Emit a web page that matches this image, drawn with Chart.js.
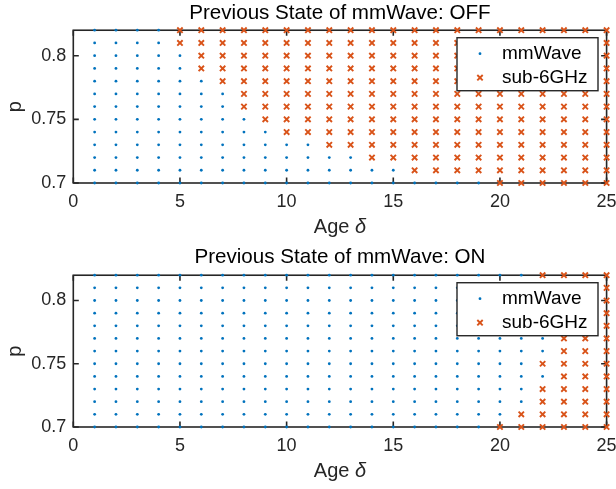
<!DOCTYPE html>
<html>
<head>
<meta charset="utf-8">
<script src="https://cdn.jsdelivr.net/npm/chart.js@4.4.1/dist/chart.umd.min.js"></script>
<style>
  html, body { margin: 0; padding: 0; background: #fff; }
  #wrap { position: relative; width: 616px; height: 489px; background: #fff; }
  canvas { position: absolute; left: 0; }
</style>
</head>
<body>
<div id="wrap">
  <canvas id="c1" width="616" height="244" style="top:0px"></canvas>
  <canvas id="c2" width="616" height="245" style="top:244px"></canvas>
</div>
<script>
// ---------- data ----------
const ages = [1,2,3,4,5,6,7,8,9,10,11,12,13,14,15,16,17,18,19,20,21,22,23,24,25];
const pValues = [0.70,0.71,0.72,0.73,0.74,0.75,0.76,0.77,0.78,0.79,0.80,0.81,0.82];
// first age (for each p row, 0.70 -> 0.82) at which the decision is sub-6GHz
const firstSub6AgeOff = [20,16,14,12,10,9,8,8,7,6,6,5,5];
const firstSub6AgeOn  = [20,21,22,22,23,22,23,23,23,23,23,22,22];
const xTickValues = [0,5,10,15,20,25];
const yTickValues = [0.7,0.75,0.8];
const yTickLabels = ['0.7','0.75','0.8'];
const titles = ['Previous State of mmWave: OFF','Previous State of mmWave: ON'];
const seriesNames = ['mmWave','sub-6GHz'];

const BLUE = '#0072BD', ORANGE = '#D95319', AX = '#262626';
const FONT = "'Liberation Sans', Arial, Helvetica, sans-serif";

function buildPoints(firstSub6) {
  const mm = [], sub = [];
  pValues.forEach((p, i) => {
    ages.forEach(a => {
      if (a >= firstSub6[i]) sub.push({x: a, y: p}); else mm.push({x: a, y: p});
    });
  });
  return {mm, sub};
}

function drawCross(ctx, x, y, r, lw) {
  ctx.save();
  ctx.strokeStyle = ORANGE; ctx.lineWidth = lw;
  ctx.beginPath();
  ctx.moveTo(x - r, y - r); ctx.lineTo(x + r, y + r);
  ctx.moveTo(x - r, y + r); ctx.lineTo(x + r, y - r);
  ctx.stroke();
  ctx.restore();
}

const framePlugin = {
  id: 'frame',
  beforeDatasetsDraw(chart) {
    const {ctx, chartArea: a, scales} = chart;
    ctx.save();
    ctx.strokeStyle = AX; ctx.lineWidth = 1.6;
    ctx.strokeRect(a.left, a.top, a.right - a.left, a.bottom - a.top);
    const tl = 5.5;
    ctx.beginPath();
    xTickValues.forEach(v => {
      const px = scales.x.getPixelForValue(v);
      ctx.moveTo(px, a.bottom); ctx.lineTo(px, a.bottom - tl);
      ctx.moveTo(px, a.top); ctx.lineTo(px, a.top + tl);
    });
    yTickValues.forEach(v => {
      const py = scales.y.getPixelForValue(v);
      ctx.moveTo(a.left, py); ctx.lineTo(a.left + tl, py);
      ctx.moveTo(a.right, py); ctx.lineTo(a.right - tl, py);
    });
    ctx.stroke();
    ctx.restore();
  },
  afterDraw(chart) {
    // x-axis label "Age δ" with italic delta
    const {ctx, chartArea: a} = chart;
    ctx.save();
    ctx.fillStyle = AX;
    ctx.textBaseline = 'alphabetic';
    const f1 = '20px ' + FONT, f2 = 'italic 20px ' + FONT;
    ctx.font = f1; const w1 = ctx.measureText('Age ').width;
    ctx.font = f2; const w2 = ctx.measureText('δ').width;
    const cx = (a.left + a.right) / 2;
    const x0 = cx - (w1 + w2) / 2;
    const by = a.bottom + 49.5;
    ctx.font = f1; ctx.textAlign = 'left'; ctx.fillText('Age ', x0, by);
    ctx.font = f2; ctx.fillText('δ', x0 + w1, by);
    ctx.restore();
  }
};

const legendPlugin = {
  id: 'boxLegend',
  afterDatasetsDraw(chart) {
    const {ctx, chartArea: a} = chart;
    const w = 141, h = 53;
    const left = a.right - 8.6 - w, top = a.top + 7.5;
    ctx.save();
    ctx.fillStyle = '#fff';
    ctx.fillRect(left, top, w, h);
    ctx.strokeStyle = AX; ctx.lineWidth = 1.4;
    ctx.strokeRect(left, top, w, h);
    const y1 = top + 16, y2 = top + 40, mx = left + 23;
    ctx.fillStyle = BLUE;
    ctx.beginPath(); ctx.arc(mx, y1, 1.4, 0, Math.PI * 2); ctx.fill();
    drawCross(ctx, mx, y2, 2.7, 1.9);
    ctx.fillStyle = '#000';
    ctx.font = '19px ' + FONT;
    ctx.textBaseline = 'middle'; ctx.textAlign = 'left';
    ctx.fillText(seriesNames[0], left + 45, y1);
    ctx.fillText(seriesNames[1], left + 45, y2);
    ctx.restore();
  }
};

function makeChart(id, title, firstSub6, xAxisHeight, titlePadBottom) {
  const pts = buildPoints(firstSub6);
  return new Chart(document.getElementById(id), {
    type: 'scatter',
    data: {
      datasets: [
        { label: seriesNames[0], data: pts.mm, pointStyle: 'circle', pointRadius: 1.4,
          pointBackgroundColor: BLUE, pointBorderWidth: 0, pointBorderColor: BLUE, clip: false },
        { label: seriesNames[1], data: pts.sub, pointStyle: 'crossRot', pointRadius: 3.8,
          pointBorderColor: ORANGE, pointBackgroundColor: ORANGE, pointBorderWidth: 1.9, clip: false }
      ]
    },
    options: {
      responsive: false, animation: false, devicePixelRatio: 1,
      layout: { padding: { left: 0, right: 0, top: 0, bottom: 0 } },
      plugins: {
        legend: { display: false },
        tooltip: { enabled: false },
        title: { display: true, text: title, color: '#000', fullSize: false,
                 font: { family: FONT, size: 20.6, weight: 'normal' },
                 padding: { top: 1.1, bottom: titlePadBottom } }
      },
      scales: {
        x: {
          type: 'linear', min: 0, max: 25,
          afterBuildTicks: s => { s.ticks = xTickValues.map(v => ({value: v})); },
          ticks: { color: AX, font: { family: FONT, size: 18 }, padding: 8.2, maxRotation: 0,
                   callback: v => String(v) },
          grid: { display: false, drawTicks: false },
          border: { display: false },
          afterFit: s => { s.height = xAxisHeight; s.paddingRight = 9.4; s.paddingLeft = 0; }
        },
        y: {
          type: 'linear', min: 0.7, max: 0.82,
          afterBuildTicks: s => { s.ticks = yTickValues.map(v => ({value: v})); },
          ticks: { color: AX, font: { family: FONT, size: 18 }, padding: 7,
                   callback: (v) => { const i = yTickValues.findIndex(t => Math.abs(t - v) < 1e-9); return i >= 0 ? yTickLabels[i] : ''; } },
          grid: { display: false, drawTicks: false },
          border: { display: false },
          title: { display: true, text: 'p', color: AX, font: { family: FONT, size: 20 }, padding: { top: 3.5, bottom: 0 } },
          afterFit: s => { s.width = 73.3; }
        }
      }
    },
    plugins: [framePlugin, legendPlugin]
  });
}

makeChart('c1', titles[0], firstSub6AgeOff, 61, 4.4);
makeChart('c2', titles[1], firstSub6AgeOn, 62, 5.4);
</script>
</body>
</html>
